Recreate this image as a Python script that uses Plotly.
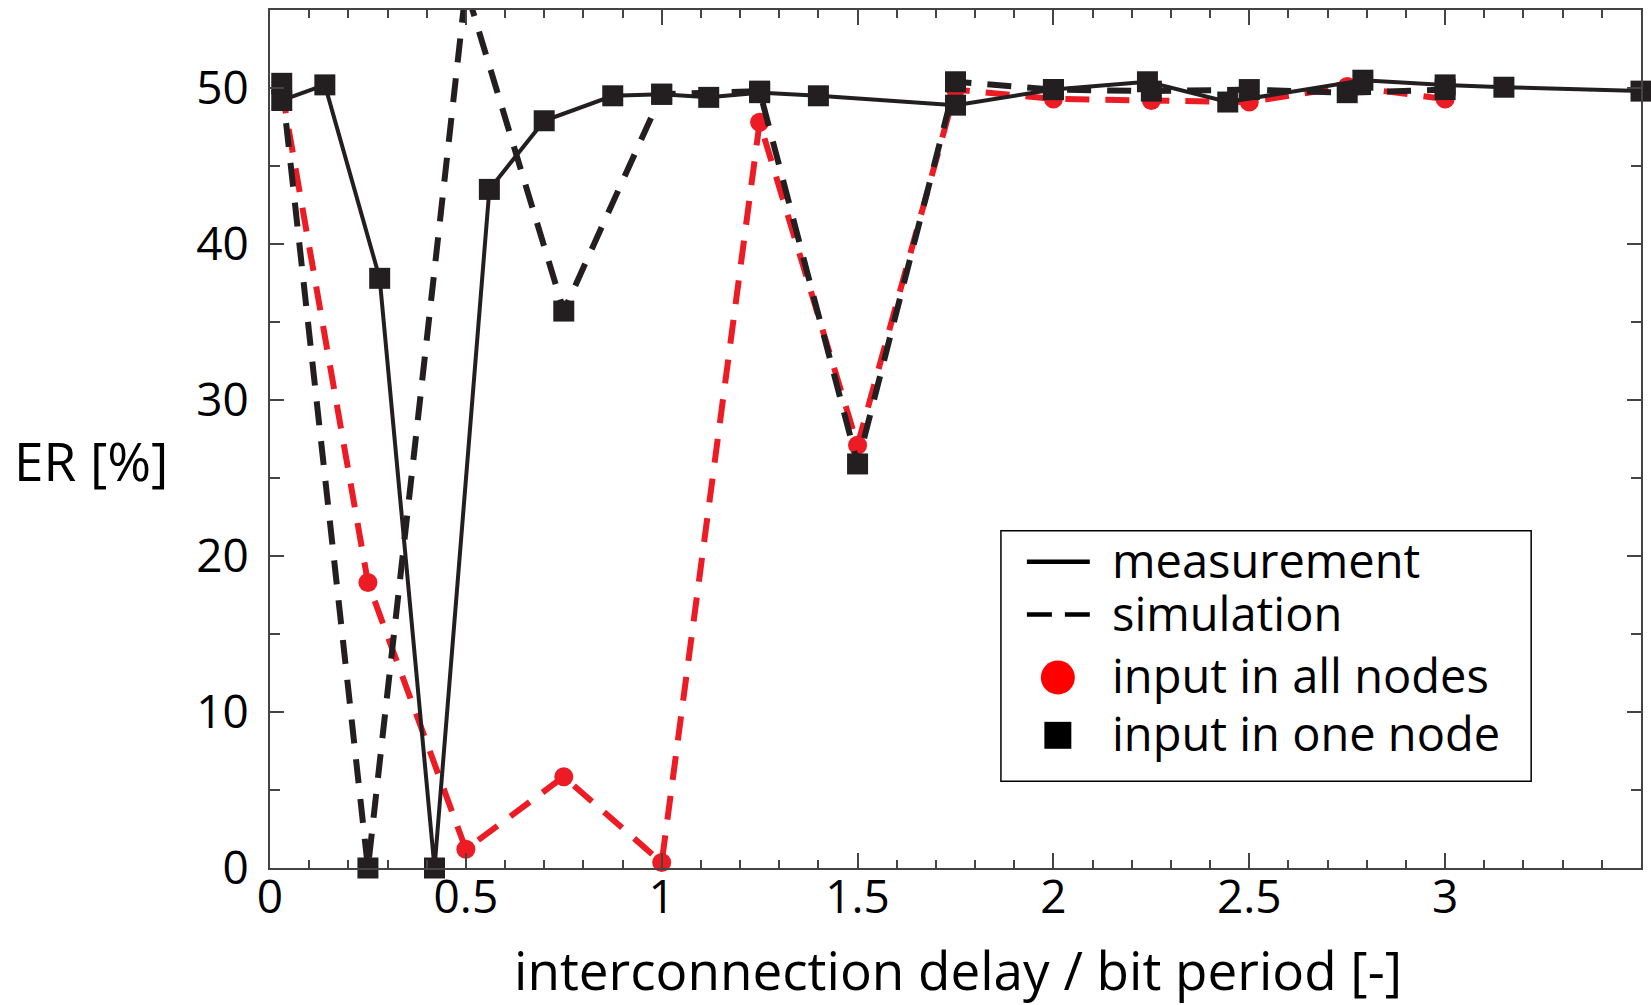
import plotly.graph_objects as go

# ---- data -------------------------------------------------------------
# measurement (input in one node)
meas_x = [0.03, 0.14, 0.28, 0.42, 0.56, 0.70, 0.875, 1.0, 1.12, 1.25, 1.40,
          1.75, 2.0, 2.24, 2.445, 2.79, 3.0, 3.15, 3.5]
meas_er = [49.2, 50.2, 37.8, 0.0, 43.5, 47.9, 49.5, 49.6, 49.4, 49.7, 49.5,
           48.9, 49.9, 50.4, 49.1, 50.5, 50.2, 50.05, 49.8]

# simulation
sim_x = [0.03, 0.25, 0.5, 0.75, 1.0, 1.25, 1.5, 1.75, 2.0, 2.25, 2.5, 2.75, 3.0]
sim_one_er = [50.3, 0.0, 56.4, 35.7, 49.6, 49.8, 25.9, 50.4, 49.9, 49.8, 49.9, 49.7, 49.9]
sim_all_er = [49.9, 18.3, 1.2, 5.85, 0.35, 47.8, 27.1, 49.9, 49.3, 49.2, 49.1, 50.1, 49.3]

x_ticks = [0, 0.5, 1, 1.5, 2, 2.5, 3]
x_ticktext = ["0", "0.5", "1", "1.5", "2", "2.5", "3"]
y_ticks = [0, 10, 20, 30, 40, 50]

legend_labels = ["measurement", "simulation", "input in all nodes", "input in one node"]

# ---- styling ------------------------------------------------------------
BLACK = "#231f20"
RED = "#ed1c24"
FONT = "Open Sans"
FS_TICK = 46
FS_LEG = 47
FS_TITLE = 53

W, H = 1651, 1005
ML, MR, MT, MB = 270, 8, 8, 137
PW, PH = W - ML - MR, H - MT - MB


def px_x(px):
    return (px - ML) / PW


def px_y(py):
    return (H - MB - py) / PH


fig = go.Figure()

fig.add_trace(go.Scatter(
    x=sim_x, y=sim_all_er, mode="lines+markers", cliponaxis=False,
    line=dict(color=RED, width=6, dash="24px,16px"),
    marker=dict(symbol="circle", size=19, color=RED),
    showlegend=False,
))
fig.add_trace(go.Scatter(
    x=sim_x, y=sim_one_er, mode="lines+markers", cliponaxis=False,
    line=dict(color=BLACK, width=6, dash="24px,16px"),
    marker=dict(symbol="square", size=21, color=BLACK),
    showlegend=False,
))
fig.add_trace(go.Scatter(
    x=meas_x, y=meas_er, mode="lines+markers", cliponaxis=False,
    line=dict(color=BLACK, width=4),
    marker=dict(symbol="square", size=21, color=BLACK),
    showlegend=False,
))

axis_common = dict(
    showline=True, linecolor="#444444", linewidth=2, mirror="allticks",
    ticks="inside", tickcolor="#444444", tickwidth=1.5,
    showgrid=False, zeroline=False,
    tickfont=dict(family=FONT, size=FS_TICK, color="black"),
)

fig.update_xaxes(
    range=[0, 3.5], tickmode="array", tickvals=x_ticks, ticktext=x_ticktext,
    ticklen=15, ticklabelstandoff=-12,
    minor=dict(tickmode="linear", tick0=0, dtick=0.1, ticks="inside",
               ticklen=8, tickcolor="#444444", tickwidth=1.5),
    **axis_common,
)
fig.update_yaxes(
    range=[0, 55], tickmode="array", tickvals=y_ticks,
    ticklen=14, ticklabelstandoff=10,
    minor=dict(tickmode="linear", tick0=0, dtick=5, ticks="inside",
               ticklen=10, tickcolor="#444444", tickwidth=1.5),
    **axis_common,
)

# ---- legend box ------------------------------------------------------
shapes = [
    dict(type="rect", xref="paper", yref="paper",
         x0=px_x(1002), x1=px_x(1533), y0=px_y(781), y1=px_y(530),
         line=dict(color="black", width=1.5), fillcolor="white", layer="above"),
    dict(type="line", xref="paper", yref="paper",
         x0=px_x(1028), x1=px_x(1091), y0=px_y(561), y1=px_y(561),
         line=dict(color="black", width=4.5), layer="above"),
    dict(type="line", xref="paper", yref="paper",
         x0=px_x(1028), x1=px_x(1091), y0=px_y(614), y1=px_y(614),
         line=dict(color="black", width=4.5, dash="25px,13px"), layer="above"),
    dict(type="circle", xref="paper", yref="paper",
         x0=px_x(1059 - 17), x1=px_x(1059 + 17), y0=px_y(677 + 17), y1=px_y(677 - 17),
         line=dict(width=0), fillcolor="#ff0000", layer="above"),
    dict(type="rect", xref="paper", yref="paper",
         x0=px_x(1059 - 13.5), x1=px_x(1059 + 13.5), y0=px_y(735 + 13.5), y1=px_y(735 - 13.5),
         line=dict(width=0), fillcolor="black", layer="above"),
]

annotations = []
for label, ty in zip(legend_labels, [559, 612, 675, 733]):
    annotations.append(dict(
        text=label, xref="paper", yref="paper", x=px_x(1111), y=px_y(ty),
        xanchor="left", yanchor="middle", showarrow=False,
        font=dict(family=FONT, size=FS_LEG, color="black"),
    ))

# axis titles
annotations.append(dict(
    text="interconnection delay / bit period [-]", xref="paper", yref="paper",
    x=px_x(959), y=px_y(970), xanchor="center", yanchor="middle", showarrow=False,
    font=dict(family=FONT, size=FS_TITLE, color="black"),
))
annotations.append(dict(
    text="ER [%]", xref="paper", yref="paper",
    x=px_x(91), y=px_y(460), xanchor="center", yanchor="middle", showarrow=False,
    font=dict(family=FONT, size=FS_TITLE, color="black"),
))

fig.update_layout(
    width=W, height=H,
    margin=dict(l=ML, r=MR, t=MT, b=MB),
    paper_bgcolor="white", plot_bgcolor="white",
    showlegend=False,
    shapes=shapes, annotations=annotations,
    font=dict(family=FONT, size=FS_TICK, color="black"),
)

fig.write_html("out.html")
